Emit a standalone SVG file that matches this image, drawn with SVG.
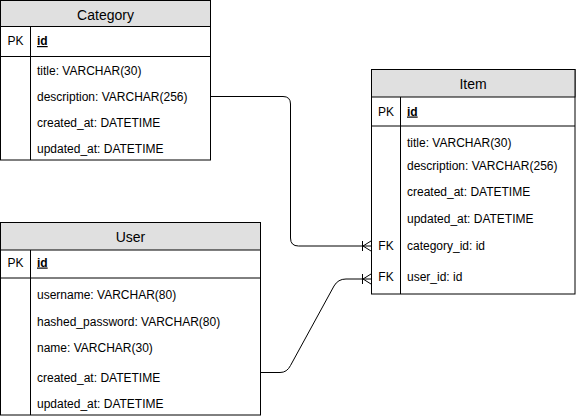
<svg xmlns="http://www.w3.org/2000/svg" width="576" height="417" viewBox="0 0 576 417">
<style>
.box{fill:#fff;stroke:#000;stroke-width:1}
.hdr{fill:#e0e0e0;stroke:#000;stroke-width:1}
.ln{stroke:#000;stroke-width:1;fill:none}
text{font-family:"Liberation Sans",Arial,sans-serif;font-size:12px;fill:#000}
.title{font-size:14px;text-anchor:middle}
.pk{text-anchor:middle}
.id{font-weight:bold;text-decoration:underline}
.conn{stroke:#000;stroke-width:1;fill:none}
</style>
<rect width="576" height="417" fill="#fff"/>
<g id="category">
<rect class="box" x="0.5" y="0.5" width="210" height="159.5"/>
<rect class="hdr" x="0.5" y="0.5" width="210" height="26"/>
<line class="ln" x1="0.5" y1="56.5" x2="210.5" y2="56.5"/>
<line class="ln" x1="30.5" y1="26.5" x2="30.5" y2="160"/>
<text class="title" x="105.5" y="19.5">Category</text>
<text class="pk" x="15.5" y="45">PK</text>
<text class="id" x="37" y="45">id</text>
<text x="37" y="74.5">title: VARCHAR(30)</text>
<text x="37" y="101">description: VARCHAR(256)</text>
<text x="37" y="127">created_at: DATETIME</text>
<text x="37" y="152.5">updated_at: DATETIME</text>
</g>
<g id="item">
<rect class="box" x="371.5" y="69.5" width="203.5" height="224.5"/>
<rect class="hdr" x="371.5" y="69.5" width="203.5" height="27.5"/>
<line class="ln" x1="371.5" y1="126" x2="575" y2="126"/>
<line class="ln" x1="400.5" y1="97" x2="400.5" y2="294"/>
<text class="title" x="473" y="89">Item</text>
<text class="pk" x="386" y="115.5">PK</text>
<text class="id" x="407" y="115.5">id</text>
<text x="407" y="146.5">title: VARCHAR(30)</text>
<text x="407" y="169.5">description: VARCHAR(256)</text>
<text x="407" y="196">created_at: DATETIME</text>
<text x="407" y="223">updated_at: DATETIME</text>
<text class="pk" x="386" y="250">FK</text>
<text x="407" y="250">category_id: id</text>
<text class="pk" x="386" y="281">FK</text>
<text x="407" y="281">user_id: id</text>
</g>
<g id="user">
<rect class="box" x="0.5" y="222.5" width="260" height="192.5"/>
<rect class="hdr" x="0.5" y="222.5" width="260" height="27.5"/>
<line class="ln" x1="0.5" y1="278" x2="260.5" y2="278"/>
<line class="ln" x1="30.5" y1="250" x2="30.5" y2="415"/>
<text class="title" x="130.5" y="241.5">User</text>
<text class="pk" x="15.5" y="266.5">PK</text>
<text class="id" x="37" y="266.5">id</text>
<text x="37" y="299">username: VARCHAR(80)</text>
<text x="37" y="326">hashed_password: VARCHAR(80)</text>
<text x="37" y="352">name: VARCHAR(30)</text>
<text x="37" y="382">created_at: DATETIME</text>
<text x="37" y="408">updated_at: DATETIME</text>
</g>
<g id="connectors">
<path class="conn" d="M211,96.5 L283,96.5 Q290.5,96.5 290.5,104 L290.5,238 Q290.5,246 298.5,246 L371,246"/>
<path class="conn" d="M362.5,241 L362.5,251 M371,241 L363,246 L371,251"/>
<path class="conn" d="M261,372.5 L280,372.5 Q287,372.5 290.5,365.5 L334,286 Q338,279 346,279 L371,279"/>
<path class="conn" d="M362.5,274 L362.5,284 M371,274 L363,279 L371,284"/>
</g>
</svg>
